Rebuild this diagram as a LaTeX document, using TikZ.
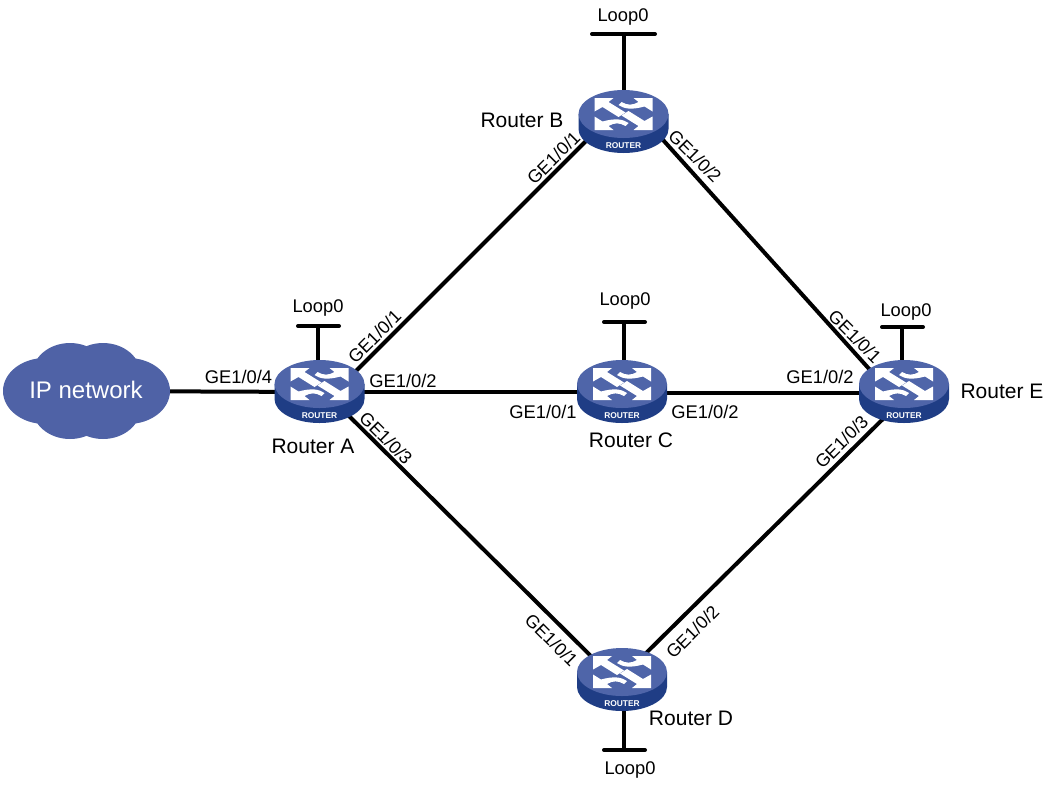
\documentclass[tikz,border=0pt]{standalone}
\usepackage{fontspec}
\setmainfont{Liberation Sans}
\definecolor{rtop}{HTML}{4F65A9}
\definecolor{rside}{HTML}{1F3D85}
\definecolor{cloudc}{HTML}{4F62A6}
\tikzset{
  x=0.75pt,y=-0.75pt,
  anchorpt/.style={inner sep=0pt,minimum size=0pt},
  link/.style={line width=3pt,black},
  bar/.style={line width=3pt,black,line cap=round},
  lbl/.style={font=\fontsize{13.75}{15}\selectfont,inner sep=0pt},
  glbl/.style={font=\fontsize{13.75}{16}\selectfont,inner sep=0pt},
  dlbl/.style={font=\fontsize{13.5}{16}\selectfont,inner sep=0pt},
  rlbl/.style={font=\fontsize{15.75}{18}\selectfont,inner sep=0pt},
  pics/routerpic/.style={code={
    \fill[rside] (-45,-8) -- (-45,7) arc[x radius=45,y radius=24,start angle=180,end angle=0] -- (45,-8) -- cycle;
    \fill[rtop] (0,-8) ellipse[x radius=45,y radius=24];
    \begin{scope}[shift={(0,-8)}]
      \foreach \r in {1,-1}{
        \begin{scope}[xscale=\r,yscale=\r]
          \fill[white] (-29,-16) -- (-10,-16) -- (-15,-12) -- (2,-1.5) -- (-5,3) -- (-21,-7) -- (-29,-2.5) -- cycle;
          \fill[white] (29,-16) -- (10,-16) -- (15,-12) .. controls (9,-8.5) and (4,-8.5) .. (-2,-12) -- (-5,-9) .. controls (1,-5) and (8,-4) .. (21,-7.5) -- (29,-2.5) -- cycle;
        \end{scope}
      }
    \end{scope}
    \node[font=\bfseries\fontsize{6.3}{7}\selectfont,white,inner sep=0pt] at (0,24) {ROUTER};
  }}
}
\begin{document}
\begin{tikzpicture}
\useasboundingbox (0,0) rectangle (1048,786);
\node[anchorpt] (A) at (319.5,392) {};
\node[anchorpt] (B) at (623.5,122) {};
\node[anchorpt] (C) at (622,392) {};
\node[anchorpt] (D) at (622,680) {};
\node[anchorpt] (E) at (904,392) {};
\node[anchorpt] (net) at (86,391) {};
\coordinate (LA) at (318,326);
\coordinate (LAl) at (298,326);
\coordinate (LAr) at (339,326);
\coordinate (LB) at (624,34);
\coordinate (LBl) at (592,34);
\coordinate (LBr) at (655,34);
\coordinate (LC) at (624,322);
\coordinate (LCl) at (604,322);
\coordinate (LCr) at (645,322);
\coordinate (LD) at (624,750);
\coordinate (LDl) at (604,750);
\coordinate (LDr) at (645,750);
\coordinate (LE) at (902,327);
\coordinate (LEl) at (882,327);
\coordinate (LEr) at (923,327);
\draw[link] (net) -- (A);
\draw[link] ([shift={(25.5,-10)}]A.center) -- ([shift={(-18.5,0)}]B.center);
\draw[link] (A) -- (C);
\draw[link] ([shift={(25.5,20)}]A.center) -- ([shift={(-22,-15)}]D.center);
\draw[link] ([shift={(26.5,3.5)}]B.center) -- ([shift={(-24,-11)}]E.center);
\draw[link] ([shift={(0,1)}]C.center) -- ([shift={(0,1)}]E.center);
\draw[link] ([shift={(18,-21)}]D.center) -- ([shift={(-14,20)}]E.center);
\foreach \n/\m in {A/LA,B/LB,C/LC,D/LD,E/LE} \draw[link] (\m) -- (\m |- \n);
\foreach \a/\b in {LAl/LAr,LBl/LBr,LCl/LCr,LDl/LDr,LEl/LEr} \draw[bar] (\a) -- (\b);
\foreach \n in {A,B,C,D,E} \pic at (\n) {routerpic};
\fill[cloudc] (45,391) ellipse[x radius=42,y radius=33]
  (128,391) ellipse[x radius=42,y radius=33]
  (70,375) ellipse[x radius=38,y radius=32]
  (103,375) ellipse[x radius=38,y radius=32]
  (70,407) ellipse[x radius=38,y radius=32]
  (103,407) ellipse[x radius=38,y radius=32];
\node[white,font=\fontsize{18}{20}\selectfont,inner sep=0pt] (nettext) at (86,390) {IP network};
\node[lbl] at (318,308) {Loop0};
\node[lbl] at (623,17) {Loop0};
\node[lbl] at (625,301) {Loop0};
\node[lbl] at (630,770) {Loop0};
\node[lbl] at (906,312) {Loop0};
\node[rlbl] at (522,120) {Router B};
\node[rlbl] at (313,446) {Router A};
\node[rlbl] at (631,440) {Router C};
\node[rlbl] at (691,718) {Router D};
\node[rlbl] at (1002,391) {Router E};
\node[glbl] at (238.5,377) {GE1/0/4};
\node[glbl] at (403,381) {GE1/0/2};
\node[glbl] at (543,412) {GE1/0/1};
\node[glbl] at (705,412) {GE1/0/2};
\node[glbl] at (820,377) {GE1/0/2};
\node[dlbl,rotate=45] at (374.5,336.5) {GE1/0/1};
\node[dlbl,rotate=45] at (553.5,158) {GE1/0/1};
\node[dlbl,rotate=45] at (692.5,632) {GE1/0/2};
\node[dlbl,rotate=45] at (841.5,442) {GE1/0/3};
\node[dlbl,rotate=-45] at (695,156) {GE1/0/2};
\node[dlbl,rotate=-45] at (551.5,640) {GE1/0/1};
\node[dlbl,rotate=-45] at (855,336.5) {GE1/0/1};
\node[dlbl,rotate=-45] at (386,438) {GE1/0/3};
\end{tikzpicture}
\end{document}
